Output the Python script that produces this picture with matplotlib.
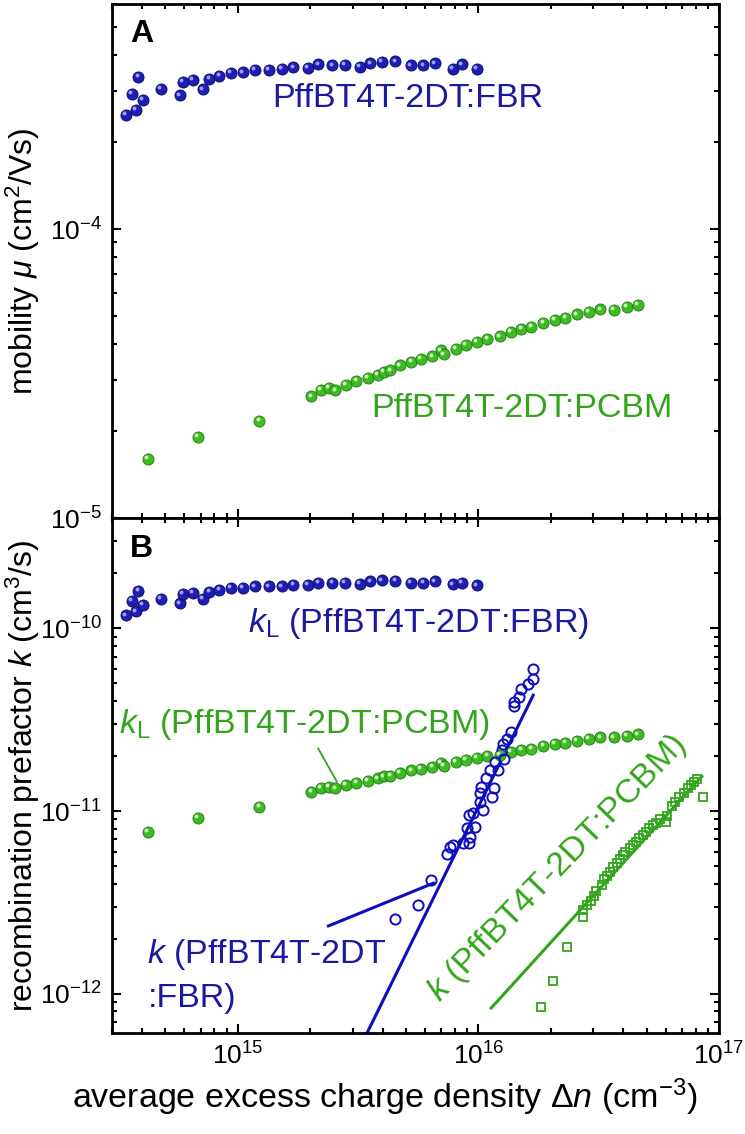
import numpy as np
import matplotlib.pyplot as plt
from matplotlib import ticker, transforms

plt.rcParams['font.family'] = ['Liberation Sans', 'DejaVu Sans']
plt.rcParams['mathtext.fontset'] = 'custom'
plt.rcParams['mathtext.rm'] = 'Liberation Sans'
plt.rcParams['mathtext.it'] = 'Liberation Sans:italic'
plt.rcParams['mathtext.bf'] = 'Liberation Sans:bold'

# ---- panel A: mobility ----
fbr_n = [3.43e14, 3.77e14, 3.62e14, 4.03e14, 3.86e14, 4.78e14, 5.75e14, 5.90e14,
         6.50e14, 7.15e14, 7.62e14, 8.38e14, 9.35e14, 1.05e15, 1.18e15, 1.35e15,
         1.52e15, 1.70e15, 1.95e15, 2.16e15, 2.47e15, 2.79e15, 3.22e15, 3.55e15,
         3.96e15, 4.51e15, 5.25e15, 5.91e15, 6.61e15, 7.83e15, 8.53e15, 9.85e15]
fbr_mu = [2.48e-4, 2.58e-4, 2.94e-4, 2.79e-4, 3.35e-4, 3.06e-4, 2.90e-4, 3.23e-4,
          3.27e-4, 3.04e-4, 3.30e-4, 3.38e-4, 3.47e-4, 3.48e-4, 3.55e-4, 3.55e-4,
          3.57e-4, 3.62e-4, 3.61e-4, 3.71e-4, 3.68e-4, 3.69e-4, 3.64e-4, 3.74e-4,
          3.79e-4, 3.80e-4, 3.68e-4, 3.68e-4, 3.74e-4, 3.58e-4, 3.71e-4, 3.58e-4]

pcbm_n = [4.22e14, 6.84e14, 1.23e15, 2.02e15, 2.21e15, 2.39e15, 2.54e15, 2.81e15,
          3.11e15, 3.47e15, 3.81e15, 4.05e15, 4.30e15, 4.72e15, 5.26e15, 5.77e15,
          6.44e15, 6.98e15, 7.18e15, 8.04e15, 8.89e15, 9.84e15, 1.09e16, 1.23e16,
          1.36e16, 1.51e16, 1.66e16, 1.86e16, 2.08e16, 2.30e16, 2.57e16, 2.87e16,
          3.21e16, 3.66e16, 4.13e16, 4.61e16]
pcbm_mu = [1.61e-5, 1.91e-5, 2.18e-5, 2.64e-5, 2.79e-5, 2.83e-5, 2.77e-5, 2.89e-5,
           2.98e-5, 3.06e-5, 3.14e-5, 3.22e-5, 3.25e-5, 3.38e-5, 3.47e-5, 3.57e-5,
           3.63e-5, 3.81e-5, 3.69e-5, 3.86e-5, 3.97e-5, 4.07e-5, 4.18e-5, 4.26e-5,
           4.40e-5, 4.52e-5, 4.59e-5, 4.74e-5, 4.86e-5, 4.94e-5, 5.07e-5, 5.19e-5,
           5.28e-5, 5.27e-5, 5.38e-5, 5.48e-5]

# ---- panel B: recombination prefactors ----
fbr_kL = [1.18e-10, 1.24e-10, 1.41e-10, 1.34e-10, 1.60e-10, 1.45e-10, 1.37e-10, 1.55e-10,
          1.56e-10, 1.45e-10, 1.58e-10, 1.63e-10, 1.66e-10, 1.66e-10, 1.70e-10, 1.70e-10,
          1.70e-10, 1.73e-10, 1.73e-10, 1.78e-10, 1.78e-10, 1.78e-10, 1.75e-10, 1.81e-10,
          1.83e-10, 1.82e-10, 1.77e-10, 1.78e-10, 1.81e-10, 1.74e-10, 1.78e-10, 1.72e-10]
pcbm_kL = [7.73e-12, 9.17e-12, 1.05e-11, 1.27e-11, 1.34e-11, 1.36e-11, 1.33e-11, 1.39e-11,
           1.43e-11, 1.47e-11, 1.51e-11, 1.55e-11, 1.56e-11, 1.62e-11, 1.67e-11, 1.71e-11,
           1.74e-11, 1.83e-11, 1.77e-11, 1.85e-11, 1.91e-11, 1.95e-11, 2.01e-11, 2.04e-11,
           2.11e-11, 2.17e-11, 2.20e-11, 2.28e-11, 2.33e-11, 2.37e-11, 2.43e-11, 2.49e-11,
           2.53e-11, 2.53e-11, 2.58e-11, 2.63e-11]

fbr_k_n = [1.68e16, 1.69e16, 1.61e16, 1.51e16, 1.47e16, 1.40e16, 1.41e16, 1.36e16,
           1.31e16, 1.27e16, 1.25e16, 1.28e16, 1.17e16, 1.21e16, 1.12e16, 1.08e16,
           1.03e16, 1.16e16, 1.02e16, 1.14e16, 1.02e16, 1.05e16, 9.54e15, 9.10e15,
           9.69e15, 8.95e15, 9.24e15, 8.67e15, 9.10e15, 7.88e15, 7.63e15, 7.39e15,
           6.34e15, 5.63e15, 4.51e15]
fbr_k = [6.02e-11, 5.31e-11, 4.99e-11, 4.68e-11, 4.21e-11, 3.96e-11, 3.75e-11, 2.71e-11,
         2.49e-11, 2.34e-11, 2.16e-11, 1.94e-11, 1.86e-11, 1.67e-11, 1.67e-11, 1.51e-11,
         1.36e-11, 1.33e-11, 1.25e-11, 1.20e-11, 1.12e-11, 1.01e-11, 9.71e-12, 9.51e-12,
         8.20e-12, 8.04e-12, 7.24e-12, 6.66e-12, 6.66e-12, 6.52e-12, 6.38e-12, 5.82e-12,
         4.20e-12, 3.06e-12, 2.56e-12]

pcbm_k_n = [1.82e16, 2.04e16, 2.33e16, 2.72e16, 2.73e16, 2.84e16, 2.93e16, 3.03e16,
            3.09e16, 3.26e16, 3.33e16, 3.42e16, 3.53e16, 3.64e16, 3.76e16, 3.86e16,
            3.98e16, 4.07e16, 4.25e16, 4.39e16, 4.53e16, 4.67e16, 4.83e16, 4.98e16,
            5.14e16, 5.31e16, 5.48e16, 5.66e16, 6.04e16, 6.07e16, 6.37e16, 6.58e16,
            6.85e16, 7.12e16, 7.40e16, 7.64e16, 7.88e16, 8.14e16, 8.55e16]
pcbm_k = [8.41e-13, 1.18e-12, 1.81e-12, 2.64e-12, 2.88e-12, 3.06e-12, 3.23e-12, 3.43e-12,
          3.67e-12, 3.94e-12, 4.24e-12, 4.42e-12, 4.66e-12, 4.92e-12, 5.18e-12, 5.45e-12,
          5.75e-12, 6.00e-12, 6.25e-12, 6.52e-12, 6.79e-12, 7.10e-12, 7.40e-12, 7.71e-12,
          8.04e-12, 8.38e-12, 8.63e-12, 9.01e-12, 8.75e-12, 9.40e-12, 1.06e-11, 1.12e-11,
          1.19e-11, 1.26e-11, 1.33e-11, 1.39e-11, 1.45e-11, 1.49e-11, 1.20e-11]

# fit lines (end points)
fit_steep_n = [3.2e15, 1.69e16]
fit_steep_k = [5.0e-13, 4.31e-11]
fit_low_n = [2.38e15, 6.50e15]
fit_low_k = [2.35e-12, 4.03e-12]
fit_pcbm_n = [1.13e16, 8.49e16]
fit_pcbm_k = [8.35e-13, 1.55e-11]
pointer_n = [2.16e15, 2.58e15]
pointer_k = [2.20e-11, 1.45e-11]

blue = '#1a1aa0'
blue_line = '#0d0dc0'
green = '#33a51c'

fig, (ax1, ax2) = plt.subplots(2, 1, figsize=(7.45, 11.34), dpi=100, sharex=True)
fig.subplots_adjust(left=0.1503, right=0.9651, top=0.9965, bottom=0.0891, hspace=0)


def balls(ax, x, y, face, edge, hi):
    ax.plot(x, y, 'o', ms=8.0, mfc=face, mec=edge, mew=0.6, ls='none', zorder=3)
    off = transforms.offset_copy(ax.transData, fig=fig, x=-1.2, y=1.3, units='points')
    ax.plot(x, y, 'o', ms=2.8, mfc=hi, mec='none', ls='none', transform=off, zorder=4)


balls(ax1, fbr_n, fbr_mu, '#1e1eb4', '#0a0a6a', '#a0a0f5')
balls(ax1, pcbm_n, pcbm_mu, '#3cbb22', '#1f7a10', '#d2f5c0')

balls(ax2, fbr_n, fbr_kL, '#1e1eb4', '#0a0a6a', '#a0a0f5')
balls(ax2, pcbm_n, pcbm_kL, '#3cbb22', '#1f7a10', '#d2f5c0')
ax2.plot(fbr_k_n, fbr_k, 'o', ms=7.3, mfc='none', mec=blue_line, mew=1.4, ls='none', zorder=3)
ax2.plot(pcbm_k_n, pcbm_k, 's', ms=5.3, mfc='none', mec=green, mew=1.3, ls='none', zorder=3)
ax2.plot(fit_steep_n, fit_steep_k, color=blue_line, lw=2.2, zorder=2)
ax2.plot(fit_low_n, fit_low_k, color=blue_line, lw=2.2, zorder=2)
ax2.plot(fit_pcbm_n, fit_pcbm_k, color=green, lw=2.2, zorder=2)
ax2.plot(pointer_n, pointer_k, color=green, lw=1.3, zorder=2)

for ax in (ax1, ax2):
    ax.set_xscale('log')
    ax.set_yscale('log')
    ax.tick_params(which='both', direction='in', top=True, right=True, width=1.5,
                   labelsize=19)
    ax.tick_params(which='major', length=6.5, pad=7)
    ax.tick_params(which='minor', length=3.6)
    ax.yaxis.set_minor_formatter(ticker.NullFormatter())
    for s in ax.spines.values():
        s.set_linewidth(2.0)

ax1.set_xlim(3e14, 1e17)
ax1.set_ylim(1e-5, 6e-4)
ax2.set_ylim(6.1e-13, 4e-10)
ax1.tick_params(axis='x', labelbottom=False)

ax1.set_ylabel(r'mobility $\mu$ (cm$^2$/Vs)', fontsize=23)
ax2.set_ylabel(r'recombination prefactor $k$ (cm$^3$/s)', fontsize=23)
ax2.set_xlabel(r'average excess charge density $\mathit{\Delta n}$ (cm$^{-3}$)', fontsize=24.5)
ax1.yaxis.set_label_coords(-0.116, 0.5)
ax2.yaxis.set_label_coords(-0.116, 0.5)
ax2.xaxis.set_label_coords(0.45, -0.085)

ax1.text(0.03, 0.926, 'A', transform=ax1.transAxes, fontsize=23, fontweight='bold')
ax2.text(0.03, 0.926, 'B', transform=ax2.transAxes, fontsize=23, fontweight='bold')
ax1.text(0.2647, 0.80, 'PffBT4T-2DT:FBR', transform=ax1.transAxes, fontsize=24.5, color=blue)
ax1.text(0.4267, 0.197, 'PffBT4T-2DT:PCBM', transform=ax1.transAxes, fontsize=24.5, color=green)
ax2.text(0.224, 0.779, r'$k_{\mathrm{L}}$ (PffBT4T-2DT:FBR)', transform=ax2.transAxes,
         fontsize=24.5, color=blue)
ax2.text(0.0115, 0.5825, r'$k_{\mathrm{L}}$ (PffBT4T-2DT:PCBM)', transform=ax2.transAxes,
         fontsize=24.5, color=green)
ax2.text(0.0585, 0.136, r'$k$ (PffBT4T-2DT', transform=ax2.transAxes, fontsize=24.5, color=blue)
ax2.text(0.0585, 0.050, ':FBR)', transform=ax2.transAxes, fontsize=24.5, color=blue)
ax2.text(0.540, 0.058, r'$k$ (PffBT4T-2DT:PCBM)', transform=ax2.transAxes, fontsize=24.5,
         color=green, rotation=46, rotation_mode='anchor', ha='left', va='baseline')

fig.savefig('out.png', dpi=100)
